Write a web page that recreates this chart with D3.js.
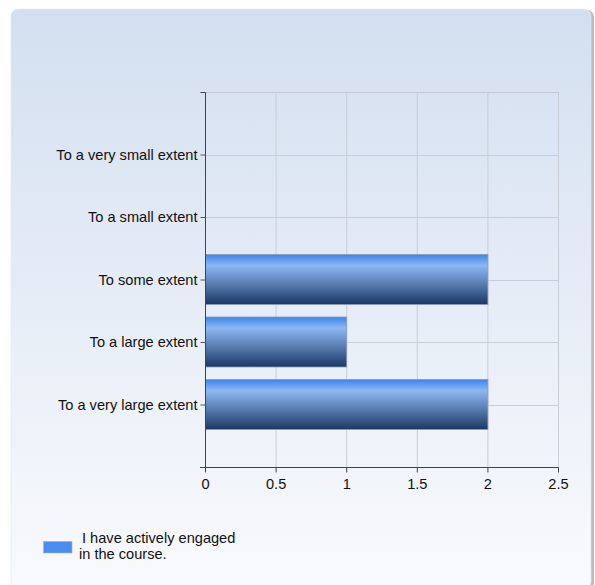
<!DOCTYPE html>
<html lang="en">
<head>
<meta charset="utf-8">
<title>I have actively engaged in the course.</title>
<script src="https://cdnjs.cloudflare.com/ajax/libs/d3/7.7.0/d3.min.js"></script>
<style>
  html, body { margin: 0; padding: 0; background: #fff; }
  svg { display: block; font-family: "Liberation Sans", Arial, sans-serif; }
</style>
</head>
<body>
<div class="graph"></div>
<script>
// chart data
const categories = ["To a very small extent", "To a small extent", "To some extent", "To a large extent", "To a very large extent"];
const counts = [0, 0, 2, 1, 2];
const xTicks = [0, 0.5, 1, 1.5, 2, 2.5];
const seriesName = ["I have actively engaged", "in the course."];

const w = 595, h = 585;
const plotL = 205, plotR = 558, plotT = 92, plotB = 467;
const fontSize = 14.6;

const svg = d3.select(".graph").append("svg")
  .attr("width", w).attr("height", h);

const defs = svg.append("defs");
const bg = defs.append("linearGradient").attr("id", "bg")
  .attr("x1", 0).attr("y1", 0).attr("x2", 0).attr("y2", 1);
bg.append("stop").attr("offset", "0%").attr("stop-color", "#d3dff0");
bg.append("stop").attr("offset", "100%").attr("stop-color", "#f9fafd");

const barGrad = defs.append("linearGradient").attr("id", "bar")
  .attr("x1", 0).attr("y1", 0).attr("x2", 0).attr("y2", 1);
barGrad.append("stop").attr("offset", "0%").attr("stop-color", "#3d84ea");
barGrad.append("stop").attr("offset", "22%").attr("stop-color", "#8db7f3");
barGrad.append("stop").attr("offset", "55%").attr("stop-color", "#5e84b8");
barGrad.append("stop").attr("offset", "100%").attr("stop-color", "#1b3865");

// panel with shadow on the right
svg.append("rect")
  .attr("x", 13).attr("y", 10).attr("width", 581).attr("height", 580)
  .attr("rx", 7).attr("fill", "#b9bcc2");
svg.append("rect")
  .attr("x", 11).attr("y", 9).attr("width", 580).attr("height", 580)
  .attr("rx", 7).attr("fill", "url(#bg)").attr("stroke", "#e4e8ef").attr("stroke-width", 0.6);

const x = d3.scaleLinear().domain([0, 2.5]).range([plotL, plotR]);
const y = d3.scalePoint().domain(categories).range([plotT, plotB]).padding(1);
const bandH = 50;

// grid
const grid = svg.append("g");
grid.selectAll(".vg").data(xTicks.slice(1)).enter().append("line")
  .attr("x1", d => x(d) + 0.5).attr("x2", d => x(d) + 0.5)
  .attr("y1", plotT).attr("y2", plotB)
  .attr("stroke", "#c9ced6").attr("stroke-width", 1);
grid.selectAll(".hg").data(categories).enter().append("line")
  .attr("x1", plotL).attr("x2", plotR)
  .attr("y1", d => Math.round(y(d)) + 0.5).attr("y2", d => Math.round(y(d)) + 0.5)
  .attr("stroke", "#c9ced6").attr("stroke-width", 1);
grid.append("line")
  .attr("x1", plotL - 5).attr("x2", plotR)
  .attr("y1", plotT + 0.5).attr("y2", plotT + 0.5)
  .attr("stroke", "#c4c9d1");

// bars
svg.selectAll(".bar").data(categories).enter().append("rect")
  .attr("x", plotL + 0.5)
  .attr("y", d => y(d) - bandH / 2)
  .attr("width", (d, i) => x(counts[i]) - plotL)
  .attr("height", bandH)
  .attr("fill", "url(#bar)")
  .attr("stroke", (d, i) => counts[i] > 0 ? "#8a9bb3" : "none")
  .attr("stroke-width", 0.8);

// y axis
const yAxis = d3.axisLeft(y).tickSize(5).tickPadding(3);
const gy = svg.append("g").attr("transform", `translate(${plotL + 0.5},0)`).call(yAxis);
gy.attr("font-size", null).attr("font-family", null);
gy.select(".domain").attr("d", `M-5,${plotT + 0.5}H0V${plotB}`).attr("stroke", "#404448");
gy.selectAll(".tick line").attr("stroke", "#555");
gy.selectAll("text").style("font-size", fontSize + "px").attr("fill", "#111");

// x axis
const xAxis = d3.axisBottom(x).tickValues(xTicks).tickSize(5).tickPadding(6)
  .tickFormat(d3.format("~g"));
const gx = svg.append("g").attr("transform", `translate(0,${plotB + 0.5})`).call(xAxis);
gx.attr("font-size", null).attr("font-family", null);
gx.select(".domain").attr("d", `M${plotL - 5},0H${plotR + 0.5}`).attr("stroke", "#404448");
gx.selectAll(".tick line").attr("stroke", "#404448");
gx.selectAll("text").style("font-size", fontSize + "px").attr("fill", "#111");

// legend
svg.append("rect")
  .attr("x", 43.5).attr("y", 541.5).attr("width", 28.5).attr("height", 11.5)
  .attr("fill", "#4a8def").attr("stroke", "#9db3d3").attr("stroke-width", 0.6);
const lt = svg.append("text").attr("y", 543)
  .style("font-size", fontSize + "px").attr("fill", "#111");
lt.selectAll("tspan").data(seriesName).enter().append("tspan")
  .attr("x", (d, i) => i === 0 ? 82 : 79)
  .attr("dy", (d, i) => i === 0 ? 0 : 16)
  .text(d => d);
</script>
</body>
</html>
